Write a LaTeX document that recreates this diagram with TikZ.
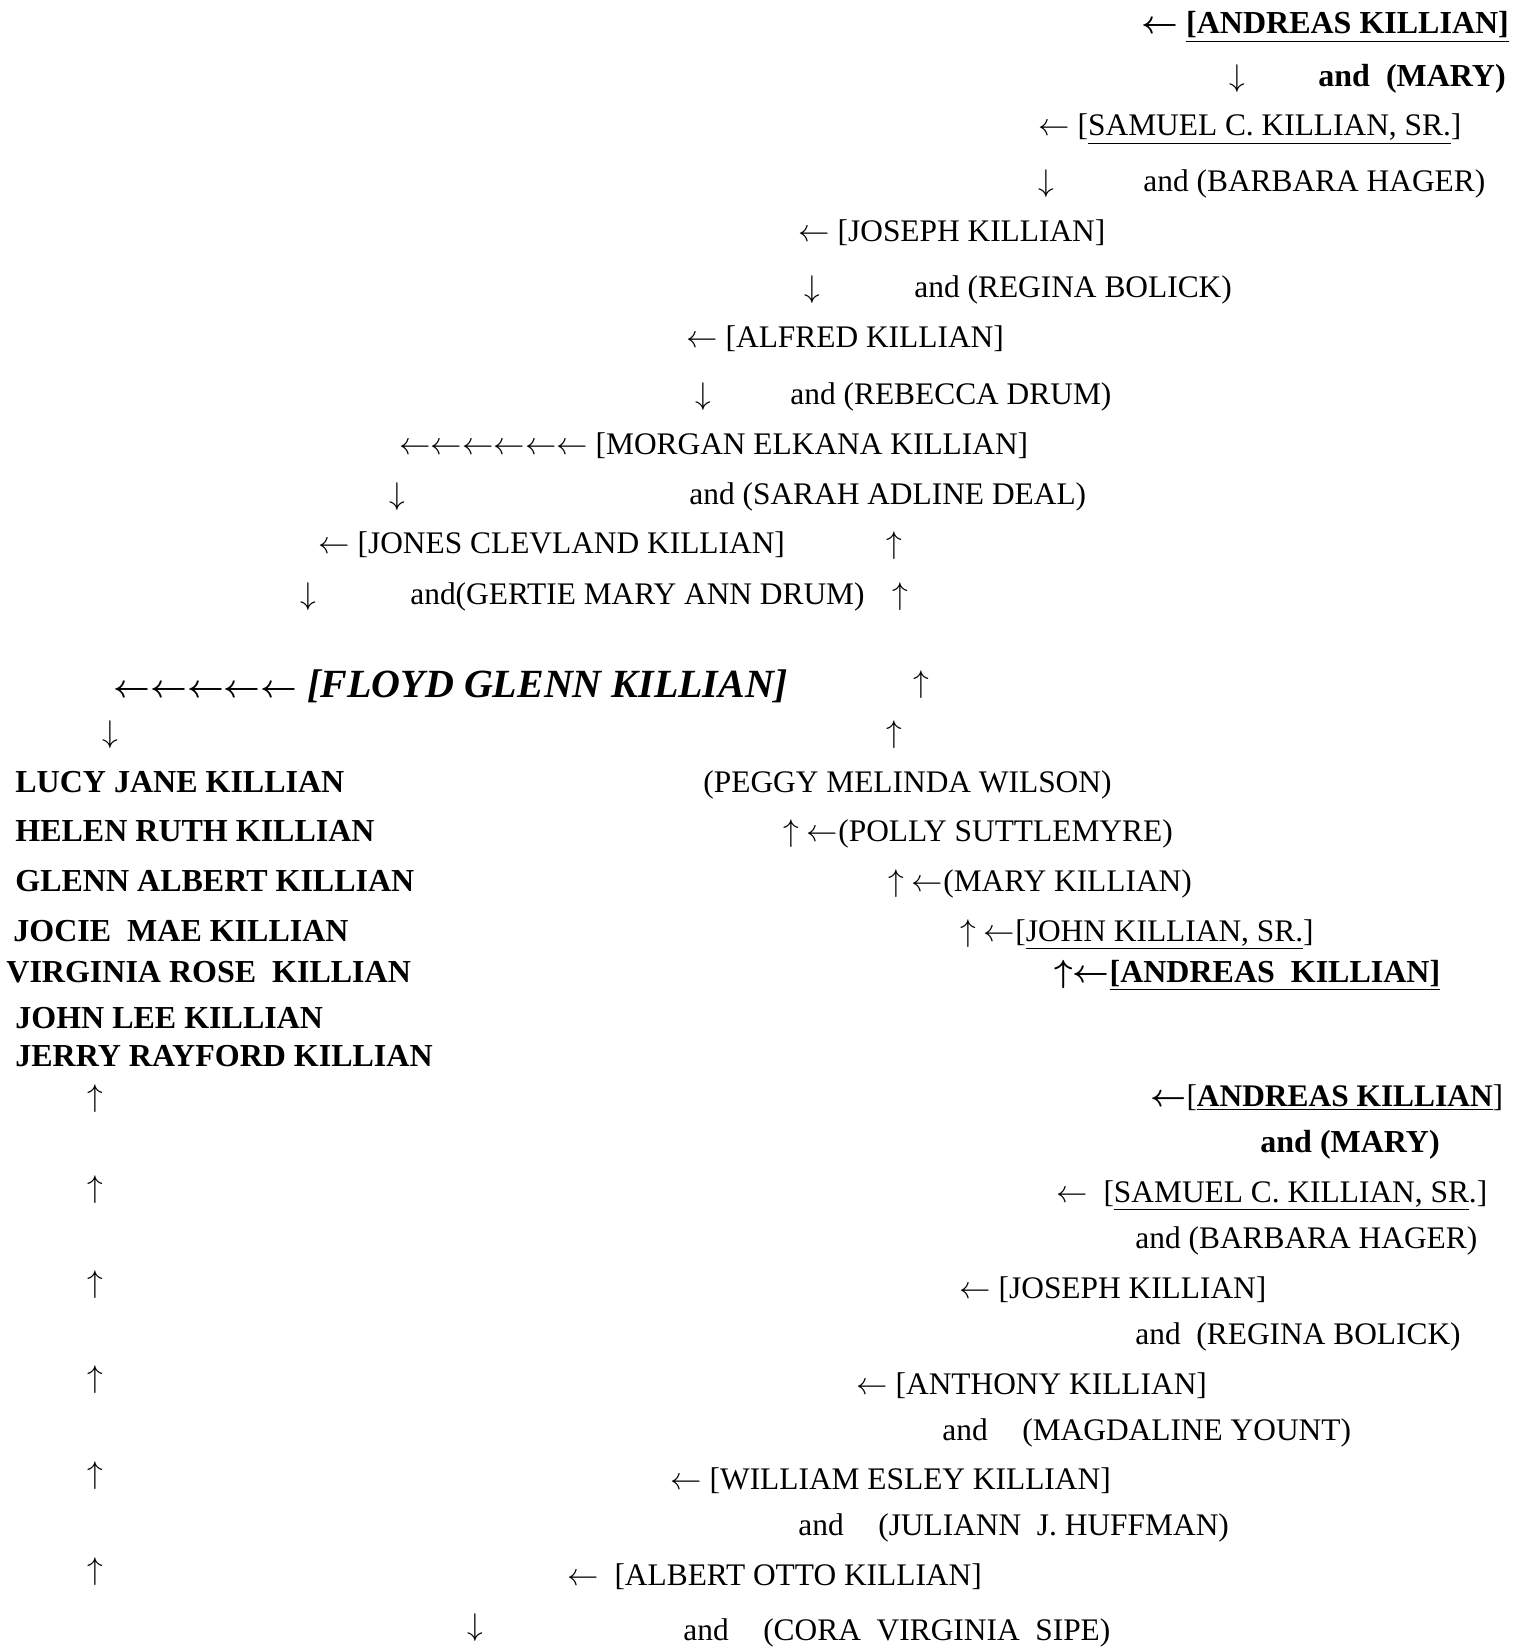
\RequirePackage{fix-cm}
\documentclass[tikz,border=0pt]{standalone}
\usepackage{fontspec}
\setmainfont{Liberation Serif}
\newcommand*{\sheetwidth}{1517}
\newcommand*{\sheetheight}{1647}
\newcommand*{\arrowrow}[1]{{\fontsize{16}{20}\selectfont#1}}
\tikzset{
  entry/.style={anchor=base west, inner sep=0pt, font=\fontsize{15.7}{18}\selectfont},
  boldentry/.style={entry, font=\fontsize{16}{18}\selectfont\bfseries\boldmath},
  mainentry/.style={entry, font=\fontsize{20}{24}\selectfont\bfseries\itshape\boldmath}
}

\begin{document}
\begin{tikzpicture}[x=0.5pt, y=-0.5pt]
    \useasboundingbox (0,0) rectangle (\sheetwidth,\sheetheight);
    % top line: Andreas and Mary
    \node[boldentry] (andreasA) at (1141,34) {$\leftarrow$ \underline{[ANDREAS KILLIAN]}};
    \node[entry] (dnA) at (1229,87) {$\downarrow$};
    \node[boldentry] (maryA) at (1318,87) {and\ \ (MARY)};
    % Samuel and Barbara
    \node[entry] (samuelA) at (1038,136) {$\leftarrow$ [\underline{SAMUEL C. KILLIAN, SR.}]};
    \node[entry] (dnB) at (1038,192) {$\downarrow$};
    \node[entry] (barbaraA) at (1143,192) {and (BARBARA HAGER)};
    % Joseph and Regina
    \node[entry] (josephA) at (798,242) {$\leftarrow$ [JOSEPH KILLIAN]};
    \node[entry] (dnC) at (804,298) {$\downarrow$};
    \node[entry] (reginaA) at (914,298) {and (REGINA BOLICK)};
    % Alfred and Rebecca
    \node[entry] (alfred) at (686,348) {$\leftarrow$ [ALFRED KILLIAN]};
    \node[entry] (dnD) at (695,404) {$\downarrow$};
    \node[entry] (rebecca) at (790,404) {and (REBECCA DRUM)};
    % Morgan and Sarah
    \node[entry] (morgan) at (399,454) {$\leftarrow\leftarrow\leftarrow\leftarrow\leftarrow\leftarrow$ [MORGAN ELKANA KILLIAN]};
    \node[entry] (dnE) at (389,504) {$\downarrow$};
    \node[entry] (sarah) at (689,504) {and (SARAH ADLINE DEAL)};
    % Jones and Gertie
    \node[entry] (jones) at (318,553) {$\leftarrow$ [JONES CLEVLAND KILLIAN]};
    \node[entry] (upA) at (886,553) {$\uparrow$};
    \node[entry] (dnF) at (300,604) {$\downarrow$};
    \node[entry] (gertie) at (410,604) {and(GERTIE MARY ANN DRUM)};
    \node[entry] (upB) at (892,604) {$\uparrow$};
    % Floyd
    \node[mainentry] (floyd) at (113,697) {\arrowrow{$\leftarrow\leftarrow\leftarrow\leftarrow\leftarrow$} [FLOYD GLENN KILLIAN]};
    \node[entry] (upC) at (913,692) {$\uparrow$};
    \node[entry] (dnG) at (102,742) {$\downarrow$};
    \node[entry] (upD) at (886,742) {$\uparrow$};
    % children
    \node[boldentry] (lucy) at (15,792) {LUCY JANE KILLIAN};
    \node[boldentry] (helen) at (15,841) {HELEN RUTH KILLIAN};
    \node[boldentry] (glenn) at (15,891) {GLENN ALBERT KILLIAN};
    \node[boldentry] (jocie) at (13,941) {JOCIE\ \ MAE KILLIAN};
    \node[boldentry] (virginia) at (6,982) {VIRGINIA ROSE\ \ KILLIAN};
    \node[boldentry] (johnlee) at (15,1028) {JOHN LEE KILLIAN};
    \node[boldentry] (jerry) at (15,1066) {JERRY RAYFORD KILLIAN};
    % Peggy's side
    \node[entry] (peggy) at (703,792) {(PEGGY MELINDA WILSON)};
    \node[entry] (polly) at (783,841) {$\uparrow$ $\leftarrow$(POLLY SUTTLEMYRE)};
    \node[entry] (marykillian) at (888,891) {$\uparrow$ $\leftarrow$(MARY KILLIAN)};
    \node[entry] (john) at (960,941) {$\uparrow$ $\leftarrow$[\underline{JOHN KILLIAN, SR.}]};
    \node[boldentry] (andreasB) at (1054,982) {$\uparrow$$\leftarrow$\underline{[ANDREAS\ \ KILLIAN]}};
    % lower line: Andreas and Mary
    \node[entry] (upE) at (87,1106) {$\uparrow$};
    \node[entry] (andreasC) at (1150,1106) {{\boldmath$\leftarrow$}[{\bfseries\underline{ANDREAS KILLIAN}}]};
    \node[boldentry] (maryC) at (1260,1152) {and (MARY)};
    % Samuel and Barbara
    \node[entry] (upF) at (87,1197) {$\uparrow$};
    \node[entry] (samuelC) at (1056,1202) {$\leftarrow$\ \ [\underline{SAMUEL C. KILLIAN, SR}.]};
    \node[entry] (barbaraC) at (1135,1248) {and (BARBARA HAGER)};
    % Joseph and Regina
    \node[entry] (upG) at (87,1292) {$\uparrow$};
    \node[entry] (josephC) at (959,1298) {$\leftarrow$ [JOSEPH KILLIAN]};
    \node[entry] (reginaC) at (1135,1344) {and\ \ (REGINA BOLICK)};
    % Anthony and Magdaline
    \node[entry] (upH) at (87,1387) {$\uparrow$};
    \node[entry] (anthony) at (856,1394) {$\leftarrow$ [ANTHONY KILLIAN]};
    \node[entry] (magdaline) at (942,1440) {and\hspace{1.1em}(MAGDALINE YOUNT)};
    % William and Juliann
    \node[entry] (upI) at (87,1483) {$\uparrow$};
    \node[entry] (william) at (670,1489) {$\leftarrow$ [WILLIAM ESLEY KILLIAN]};
    \node[entry] (juliann) at (798,1535) {and\hspace{1.1em}(JULIANN\ \ J. HUFFMAN)};
    % Albert and Cora
    \node[entry] (upJ) at (87,1579) {$\uparrow$};
    \node[entry] (albert) at (567,1585) {$\leftarrow$\ \ [ALBERT OTTO KILLIAN]};
    \node[entry] (dnH) at (467,1635) {$\downarrow$};
    \node[entry] (cora) at (683,1640) {and\hspace{1.1em}(CORA\ \ VIRGINIA\ \ SIPE)};
\end{tikzpicture}
\end{document}
